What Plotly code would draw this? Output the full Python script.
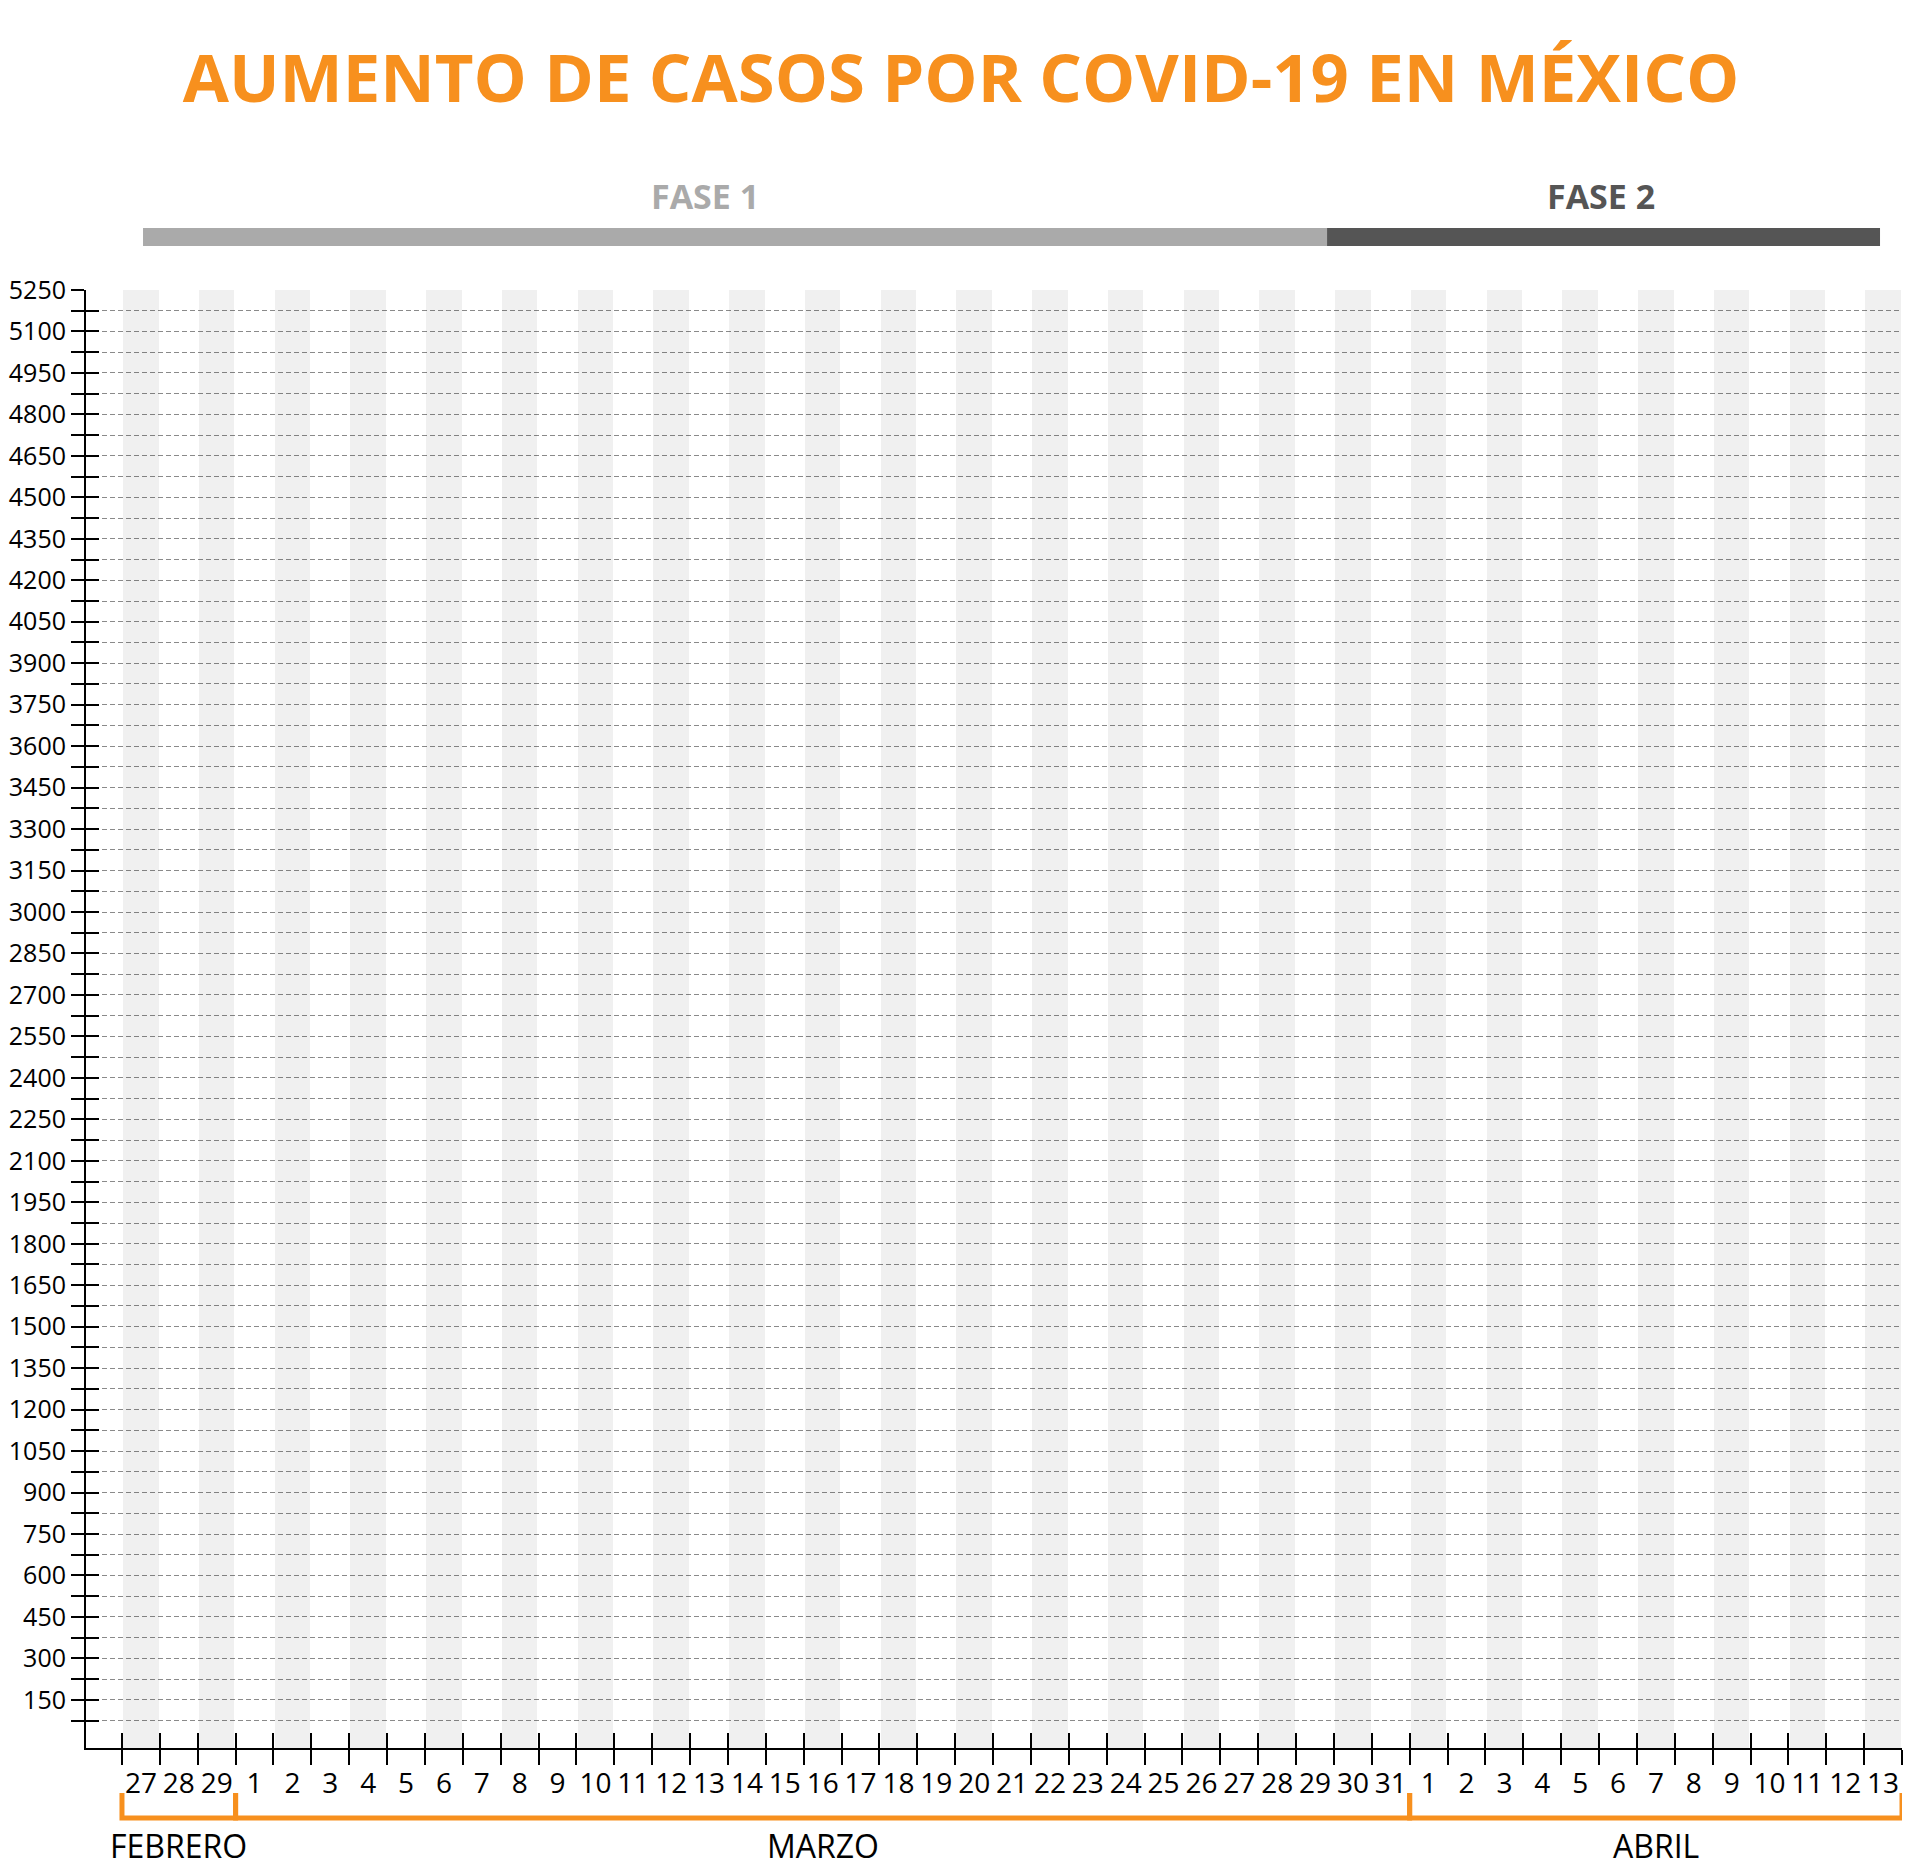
import plotly.graph_objects as go

# Days shown on the x axis, grouped by month
FEB_DAYS = [27, 28, 29]
MAR_DAYS = list(range(1, 32))
ABR_DAYS = list(range(1, 14))
MONTHS = ['FEBRERO', 'MARZO', 'ABRIL']
MONTH_DAYS = [FEB_DAYS, MAR_DAYS, ABR_DAYS]

# Y axis: ticks every 75, labels every 150
Y_TICKS = list(range(75, 5251, 75))
Y_LABELS = [str(v) if v % 150 == 0 else '' for v in Y_TICKS]
Y_MIN = -24
Y_MAX = 5250

PHASES = ['FASE 1', 'FASE 2']

ORANGE = '#F7901E'
FONT = 'Open Sans'

day_labels = [str(d) for days in MONTH_DAYS for d in days]
n_days = len(day_labels)
idx = list(range(n_days))

fig = go.Figure()

# Alternating light gray columns
shade_x = [i for i in idx if i % 2 == 0]
fig.add_trace(go.Bar(
    x=shade_x,
    y=[Y_MAX - Y_MIN] * len(shade_x),
    base=Y_MIN,
    width=0.94,
    marker=dict(color='rgba(0,0,0,0.06)', line=dict(width=0)),
    hoverinfo='skip',
    showlegend=False
))

# Invisible trace to activate the overlay axes (crossing ticks)
fig.add_trace(go.Scatter(x=[0], y=[0], xaxis='x2', yaxis='y2',
                         mode='markers', marker=dict(opacity=0),
                         hoverinfo='skip', showlegend=False))

boundaries = [i - 0.5 for i in range(n_days + 1)]
x_range = [-1.45, n_days - 0.5]

# page body adds an 8px margin, so the figure is 8px smaller
W, H = 1912, 1864

fig.update_layout(
    width=W,
    height=H,
    margin=dict(l=78, r=18, t=282, b=124, autoexpand=False),
    paper_bgcolor='white',
    plot_bgcolor='white',
    bargap=0,
    title=dict(
        text='<b>AUMENTO DE CASOS POR COVID-19 EN MÉXICO</b>',
        font=dict(family=FONT, size=67, color=ORANGE),
        x=953 / W, xanchor='center', xref='container',
        y=1 - 71 / H, yanchor='middle', yref='container'
    ),
    xaxis=dict(
        range=x_range,
        tickvals=boundaries,
        ticktext=day_labels + [''],
        ticklabelshift=19,
        ticks='outside', ticklen=15, tickwidth=2, tickcolor='black',
        showline=True, linecolor='black', linewidth=2,
        showgrid=False, zeroline=False, automargin=False,
        tickfont=dict(family=FONT, size=28, color='black'),
        ticklabelstandoff=-6
    ),
    xaxis2=dict(
        range=x_range, overlaying='x',
        tickvals=boundaries, showticklabels=False,
        ticks='inside', ticklen=15, tickwidth=2, tickcolor='black',
        showgrid=False, zeroline=False, showline=False, automargin=False
    ),
    yaxis=dict(
        range=[Y_MIN, Y_MAX],
        tickvals=Y_TICKS,
        ticktext=Y_LABELS,
        ticks='outside', ticklen=13, tickwidth=2, tickcolor='black',
        showline=True, linecolor='black', linewidth=2,
        showgrid=True, gridcolor='#8a8a8a', gridwidth=1.3, griddash='5px,3px',
        zeroline=False, automargin=False,
        tickfont=dict(family=FONT, size=25, color='black'),
        ticklabelstandoff=0
    ),
    yaxis2=dict(
        range=[Y_MIN, Y_MAX], overlaying='y',
        tickvals=Y_TICKS, showticklabels=False,
        ticks='inside', ticklen=13, tickwidth=2, tickcolor='black',
        showgrid=False, zeroline=False, showline=False, automargin=False
    )
)

# Phase bars above the plot
phase_spans = [(0.0314, 0.6834, '#aaaaaa'), (0.6834, 0.9879, '#555555')]
phase_text_x = [0.3409, 0.8343]
for x0, x1, col in phase_spans:
    fig.add_shape(type='rect', xref='paper', yref='paper',
                  x0=x0, x1=x1, y0=1.0302, y1=1.0425,
                  fillcolor=col, line=dict(width=0))
for name, tx, (x0, x1, col) in zip(PHASES, phase_text_x, phase_spans):
    fig.add_annotation(text=f'<b>{name}</b>', xref='paper', yref='paper',
                       x=tx, y=1.0645, xanchor='center', yanchor='middle',
                       showarrow=False,
                       font=dict(family=FONT, size=34, color=col))

# Month brackets and labels below the axis
start = 0
for month, days in zip(MONTHS, MONTH_DAYS):
    end = start + len(days)
    x0, x1 = start - 0.5, end - 0.5
    top, bot = -0.0309, -0.0480
    fig.add_shape(type='path', xref='x', yref='paper',
                  path=f'M {x0},{top} L {x0},{bot} L {x1},{bot} L {x1},{top}',
                  line=dict(color=ORANGE, width=5))
    fig.add_annotation(text=month, xref='x', yref='paper',
                       x=(x0 + x1) / 2, y=-0.0672,
                       xanchor='center', yanchor='middle',
                       showarrow=False,
                       font=dict(family=FONT, size=32, color='black'))
    start = end

fig.write_html('out.html')
